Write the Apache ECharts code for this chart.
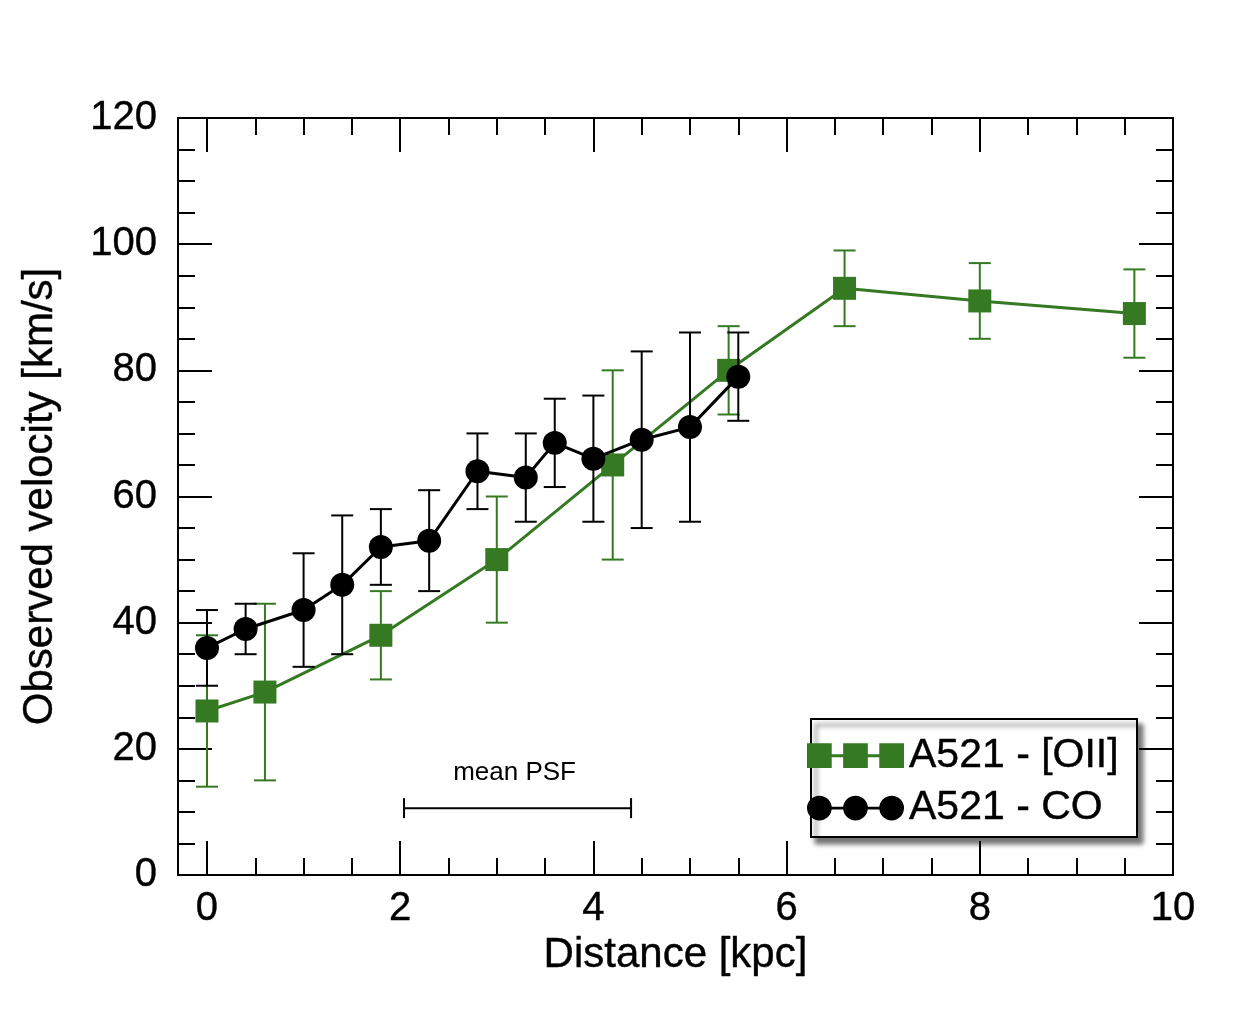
<!DOCTYPE html>
<html>
<head>
<meta charset="utf-8">
<script src="https://cdn.jsdelivr.net/npm/echarts@6/dist/echarts.min.js"></script>
<style>html,body{margin:0;padding:0;background:#fff}#c{width:1256px;height:1014px}</style>
</head>
<body>
<div id="c"></div>
<script>
// ---- data ----
const oiiX   = [0, 0.6, 1.8, 3.0, 4.2, 5.4, 6.6, 8.0, 9.6];
const oiiV   = [26, 29, 38, 50, 65, 80, 93, 91, 89];
const oiiErr = [12, 14, 7, 10, 15, 7, 6, 6, 7];

const coX   = [0, 0.4, 1.0, 1.4, 1.8, 2.3, 2.8, 3.3, 3.6, 4.0, 4.5, 5.0, 5.5];
const coV   = [36, 39, 42, 46, 52, 53, 64, 63, 68.5, 66, 69, 71, 79];
const coErr = [6, 4, 9, 11, 6, 8, 6, 7, 7, 10, 14, 15, 7];

const psfBar = [[2.04, 4.39, 10.6]]; // [xStart, xEnd, y]
const psfLabel = 'mean PSF';

const xMajorTicks = [0, 2, 4, 6, 8, 10];
const xMinorTicks = [0.5, 1, 1.5, 2.5, 3, 3.5, 4.5, 5, 5.5, 6.5, 7, 7.5, 8.5, 9, 9.5];
const xRange = [-0.3, 10];
const yRange = [0, 120];
const yStep = 20;

const seriesNames = ['A521 - [OII]', 'A521 - CO'];
const xTitle = 'Distance [kpc]';
const yTitle = 'Observed velocity [km/s]';

// ---- styling ----
const GREEN = '#357a22';
const FONT = 'Liberation Sans';
const TXT = { color: '#000', fontFamily: FONT, textBorderColor: '#000', textBorderWidth: 0.4 };

const zip = (xs, ys) => xs.map((x, i) => [x, ys[i]]);
const errData = (xs, ys, es) => xs.map((x, i) => [x, ys[i] - es[i], ys[i] + es[i]]);

function errRender(color) {
  return function (params, api) {
    const x = api.value(0);
    const lo = api.coord([x, api.value(1)]);
    const hi = api.coord([x, api.value(2)]);
    const hw = 11;
    const st = { stroke: color, lineWidth: 2 };
    return {
      type: 'group',
      children: [
        { type: 'line', shape: { x1: lo[0], y1: lo[1], x2: hi[0], y2: hi[1] }, style: st },
        { type: 'line', shape: { x1: lo[0] - hw, y1: lo[1], x2: lo[0] + hw, y2: lo[1] }, style: st },
        { type: 'line', shape: { x1: hi[0] - hw, y1: hi[1], x2: hi[0] + hw, y2: hi[1] }, style: st }
      ]
    };
  };
}

const squaresIcon = 'path://M0 0H26V11.5H38V0H64V11.5H76V0H102V26H76V14.5H64V26H38V14.5H26V26H0Z';
const circlesIcon = 'path://M0 13A13 13 0 1 1 26 13A13 13 0 1 1 0 13Z' +
  'M24 11.5H40V14.5H24Z' +
  'M38 13A13 13 0 1 1 64 13A13 13 0 1 1 38 13Z' +
  'M62 11.5H78V14.5H62Z' +
  'M76 13A13 13 0 1 1 102 13A13 13 0 1 1 76 13Z';

const axisBase = {
  type: 'value', min: xRange[0], max: xRange[1],
  splitLine: { show: false }
};
const lineSt = { color: '#000', width: 2 };

const chart = echarts.init(document.getElementById('c'), null, { renderer: 'canvas' });
chart.setOption({
  animation: false,
  backgroundColor: '#fff',
  textStyle: { fontFamily: FONT },
  grid: { left: 178, right: 83, top: 118, bottom: 139, containLabel: false },
  xAxis: [
    Object.assign({}, axisBase, {
      position: 'bottom',
      axisLine: { show: true, onZero: false, lineStyle: lineSt },
      axisTick: { show: true, inside: true, length: 34, customValues: xMajorTicks, lineStyle: lineSt },
      axisLabel: Object.assign({ show: true, customValues: xMajorTicks, fontSize: 40, margin: 14 }, TXT),
      name: xTitle, nameLocation: 'middle', nameGap: 52,
      nameTextStyle: Object.assign({ fontSize: 42 }, TXT)
    }),
    Object.assign({}, axisBase, {
      position: 'bottom',
      axisLine: { show: false, onZero: false },
      axisTick: { show: true, inside: true, length: 17, customValues: xMinorTicks, lineStyle: lineSt },
      axisLabel: { show: false }
    }),
    Object.assign({}, axisBase, {
      position: 'top',
      axisLine: { show: true, onZero: false, lineStyle: lineSt },
      axisTick: { show: true, inside: true, length: 34, customValues: xMajorTicks, lineStyle: lineSt },
      axisLabel: { show: false }
    }),
    Object.assign({}, axisBase, {
      position: 'top',
      axisLine: { show: false, onZero: false },
      axisTick: { show: true, inside: true, length: 17, customValues: xMinorTicks, lineStyle: lineSt },
      axisLabel: { show: false }
    })
  ],
  yAxis: [
    {
      type: 'value', min: yRange[0], max: yRange[1], interval: yStep, position: 'left',
      splitLine: { show: false },
      axisLine: { show: true, onZero: false, lineStyle: lineSt },
      axisTick: { show: true, inside: true, length: 34, lineStyle: lineSt },
      minorTick: { show: true, splitNumber: 4, length: 17, lineStyle: lineSt },
      axisLabel: Object.assign({ fontSize: 40, margin: 21 }, TXT),
      name: yTitle, nameLocation: 'middle', nameGap: 117,
      nameTextStyle: Object.assign({ fontSize: 42 }, TXT)
    },
    {
      type: 'value', min: yRange[0], max: yRange[1], interval: yStep, position: 'right',
      splitLine: { show: false },
      axisLine: { show: true, onZero: false, lineStyle: lineSt },
      axisTick: { show: true, inside: true, length: 34, lineStyle: lineSt },
      minorTick: { show: true, splitNumber: 4, length: 17, lineStyle: lineSt },
      axisLabel: { show: false }
    }
  ],
  legend: {
    orient: 'vertical', left: 807, top: 735, padding: 0,
    itemWidth: 97, itemHeight: 26, itemGap: 11,
    selectedMode: false,
    textStyle: Object.assign({ fontSize: 41, lineHeight: 40 }, TXT),
    data: [
      { name: seriesNames[0], icon: squaresIcon },
      { name: seriesNames[1], icon: circlesIcon }
    ],
    z: 10
  },
  graphic: [{
    type: 'rect', left: 810, top: 718, z: 5,
    shape: { width: 326, height: 118 },
    style: { fill: '#fff', stroke: '#000', lineWidth: 2, shadowColor: 'rgba(0,0,0,0.55)', shadowBlur: 5, shadowOffsetX: 5, shadowOffsetY: 6 }
  }],
  series: [
    {
      name: 'oii-err', type: 'custom', renderItem: errRender(GREEN),
      data: errData(oiiX, oiiV, oiiErr), z: 2, silent: true
    },
    {
      name: seriesNames[0], type: 'line', data: zip(oiiX, oiiV),
      symbol: 'rect', symbolSize: 23, showSymbol: true,
      itemStyle: { color: GREEN }, lineStyle: { color: GREEN, width: 3 }, z: 3
    },
    {
      name: 'co-err', type: 'custom', renderItem: errRender('#000'),
      data: errData(coX, coV, coErr), z: 4, silent: true
    },
    {
      name: seriesNames[1], type: 'line', data: zip(coX, coV),
      symbol: 'circle', symbolSize: 24, showSymbol: true,
      itemStyle: { color: '#000' }, lineStyle: { color: '#000', width: 3 }, z: 5
    },
    {
      name: 'psf', type: 'custom', silent: true, z: 6,
      data: psfBar,
      renderItem: function (params, api) {
        const a = api.coord([api.value(0), api.value(2)]);
        const b = api.coord([api.value(1), api.value(2)]);
        const st = { stroke: '#000', lineWidth: 2 };
        return {
          type: 'group',
          children: [
            { type: 'line', shape: { x1: a[0], y1: a[1], x2: b[0], y2: b[1] }, style: st },
            { type: 'line', shape: { x1: a[0], y1: a[1] - 10, x2: a[0], y2: a[1] + 10 }, style: st },
            { type: 'line', shape: { x1: b[0], y1: b[1] - 10, x2: b[0], y2: b[1] + 10 }, style: st },
            { type: 'text', x: (a[0] + b[0]) / 2 - 3, y: a[1] - 22,
              style: { text: psfLabel, fill: '#000', font: '26px "Liberation Sans"', align: 'center', verticalAlign: 'bottom' } }
          ]
        };
      }
    }
  ]
});
</script>
</body>
</html>
